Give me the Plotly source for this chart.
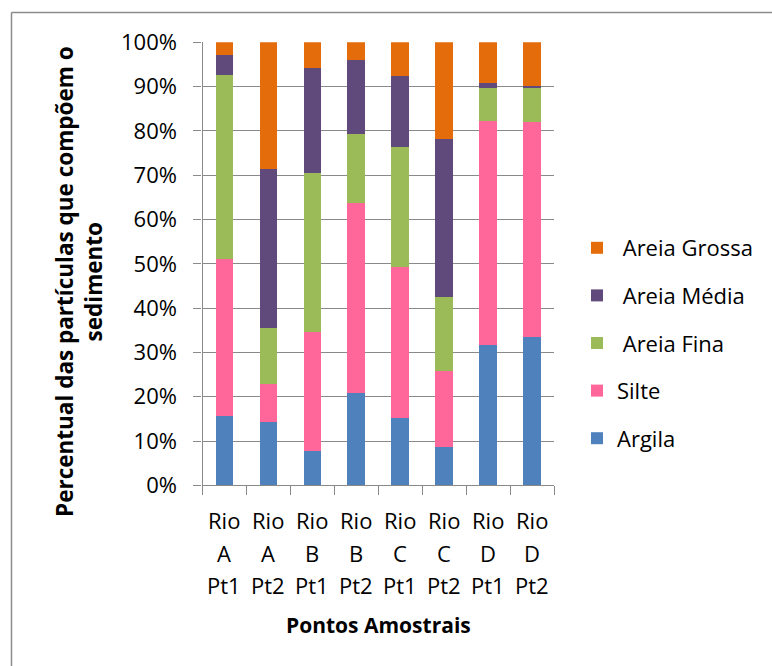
import plotly.graph_objects as go

rivers = ["A", "A", "B", "B", "C", "C", "D", "D"]
points = ["Pt1", "Pt2", "Pt1", "Pt2", "Pt1", "Pt2", "Pt1", "Pt2"]
categories = [f"Rio {r} {p}" for r, p in zip(rivers, points)]

argila = [15.6, 14.2, 7.8, 20.8, 15.3, 8.7, 31.6, 33.4]
silte = [35.5, 8.7, 26.9, 43.0, 33.9, 17.0, 50.7, 48.6]
areia_fina = [41.5, 12.7, 35.9, 15.4, 27.1, 16.9, 7.4, 7.7]
areia_media = [4.6, 35.7, 23.6, 16.8, 16.1, 35.6, 1.2, 0.5]
areia_grossa = [2.8, 28.7, 5.8, 4.0, 7.6, 21.8, 9.1, 9.8]

series = [
    ("Argila", argila, "#4F81BD"),
    ("Silte", silte, "#FF6699"),
    ("\u00a0Areia Fina", areia_fina, "#9BBB59"),
    ("\u00a0Areia Média", areia_media, "#604A7B"),
    ("\u00a0Areia Grossa", areia_grossa, "#E46C0A"),
]

W, H = 772, 666
FONT = "Open Sans"
GRID = "#898989"

fig = go.Figure()
n = len(series)
for i, (name, vals, color) in enumerate(series):
    fig.add_trace(go.Bar(
        x=categories, y=vals, name=name, legendgroup=name,
        legendrank=n - i,
        marker=dict(color=color, line=dict(width=0)),
    ))

def px_x(p):
    return p / W

def px_y(p):
    return 1 - p / H

annotations = []
for c, r, p in zip(categories, rivers, points):
    for text, yc in (("Rio", 520), (r, 553), (p, 585)):
        annotations.append(dict(
            x=c, xref="x", y=px_y(yc), yref="paper", text=text,
            showarrow=False, xanchor="center", yanchor="middle",
            font=dict(family=FONT, size=22, color="#000000"),
        ))
annotations.append(dict(
    x=0.5, xref="x domain", y=px_y(625), yref="paper",
    text="<b>Pontos Amostrais</b>", showarrow=False,
    xanchor="center", yanchor="middle",
    font=dict(family=FONT, size=21, color="#000000"),
))
annotations.append(dict(
    x=px_x(79), xref="paper", y=px_y(282), yref="paper",
    text="<b>Percentual das partículas que compõem o<br>sedimento</b>",
    showarrow=False, textangle=-90, xanchor="center", yanchor="middle",
    font=dict(family=FONT, size=22.5, color="#000000"),
))

shapes = [
    dict(type="line", xref="paper", yref="paper",
         x0=px_x(11.5), x1=px_x(11.5), y0=px_y(12.5), y1=px_y(700),
         line=dict(color="#8C8C8C", width=1.5)),
    dict(type="line", xref="paper", yref="paper",
         x0=px_x(11.5), x1=px_x(800), y0=px_y(12.5), y1=px_y(12.5),
         line=dict(color="#8C8C8C", width=1.5)),
]

fig.update_layout(
    width=W, height=H,
    margin=dict(l=0, r=0, t=0, b=0, pad=0, autoexpand=False),
    paper_bgcolor="white", plot_bgcolor="white",
    barmode="stack", bargap=0.6,
    font=dict(family=FONT, size=22, color="#000000"),
    showlegend=True,
    legend=dict(
        x=px_x(577), xanchor="left", y=px_y(227), yanchor="top",
        traceorder="grouped", tracegroupgap=16,
        font=dict(family=FONT, size=22, color="#000000"),
        bgcolor="rgba(0,0,0,0)",
    ),
    xaxis=dict(
        domain=[px_x(202.5), px_x(554)], type="category",
        range=[-0.5, 7.5], tickson="boundaries", ticks="outside",
        ticklen=9, tickwidth=1.3, tickcolor=GRID, automargin=False,
        showticklabels=False, showline=True, linecolor=GRID, linewidth=1.3,
        showgrid=False, zeroline=False,
    ),
    yaxis=dict(
        domain=[px_y(485.3), px_y(42.3)], range=[0, 100], dtick=10,
        ticksuffix="%", ticks="outside", ticklen=8, tickwidth=1.3,
        tickcolor=GRID, showline=True, linecolor=GRID, linewidth=1.3,
        showgrid=True, gridcolor=GRID, gridwidth=1.3, zeroline=False,
        ticklabelstandoff=12, automargin=False,
        tickfont=dict(family=FONT, size=22, color="#000000"),
    ),
    annotations=annotations,
    shapes=shapes,
)

PIN = (
    "document.documentElement.style.margin='0';"
    "document.body.style.margin='0';"
    "document.body.style.overflow='hidden';"
    "var gd=document.getElementById('{plot_id}');"
    "gd.style.position='fixed';gd.style.left='0px';gd.style.top='0px';"
)

fig.write_html("out.html", post_script=PIN, config={"displayModeBar": False})
